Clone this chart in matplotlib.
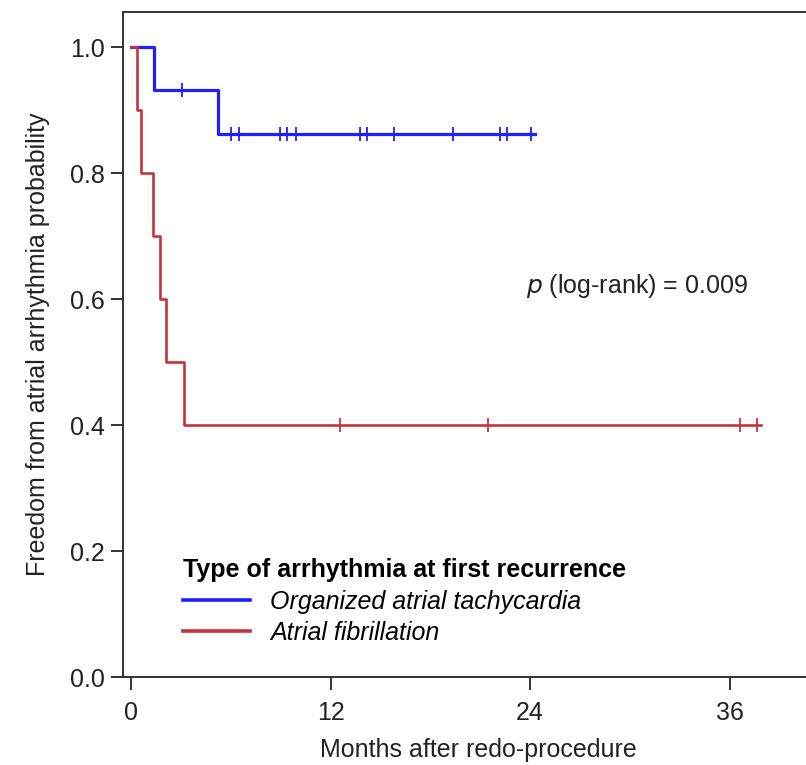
import numpy as np
import matplotlib as mpl
mpl.use("Agg")
import matplotlib.pyplot as plt

mpl.rcParams.update({
    "font.family": "sans-serif",
    "font.sans-serif": ["Liberation Sans", "DejaVu Sans"],
    "font.size": 18,
})

# Kaplan-Meier step data (months, survival)
oat_event_t = [0.0, 1.35, 5.25]
oat_event_s = [1.0, 0.933, 0.862]
oat_end = 24.3
oat_cens_t = [3.08, 6.02, 6.47, 8.97, 9.37, 9.92, 13.78, 14.18, 15.8, 19.37, 22.2, 22.6, 24.04]

af_event_t = [0.0, 0.37, 0.6, 1.31, 1.74, 2.07, 3.19]
af_event_s = [1.0, 0.9, 0.8, 0.7, 0.6, 0.5, 0.4]
af_end = 37.9
af_cens_t = [12.57, 21.48, 36.6, 37.64]

x_ticks = [0, 12, 24, 36]
y_ticks = [0.0, 0.2, 0.4, 0.6, 0.8, 1.0]

BLUE = "#1f1fff"
RED = "#c8323c"
INK = "#222222"
FS = 18


def km_step(times, surv, t_end):
    xs = list(times) + [t_end]
    ys = list(surv) + [surv[-1]]
    return np.array(xs), np.array(ys)


def surv_at(times, surv, t):
    idx = np.searchsorted(times, t, side="right") - 1
    return np.array(surv)[idx]


fig = plt.figure(figsize=(8.06, 7.65), dpi=100)
ax = fig.add_axes([0.1526, 0.115, 0.86, 0.869])

for times, surv, t_end, cens, col, lw, lab in [
    (oat_event_t, oat_event_s, oat_end, oat_cens_t, BLUE, 2.3, "Organized atrial tachycardia"),
    (af_event_t, af_event_s, af_end, af_cens_t, RED, 1.9, "Atrial fibrillation"),
]:
    xs, ys = km_step(times, surv, t_end)
    ax.step(xs, ys, where="post", color=col, linewidth=lw, label=lab, zorder=3)
    ax.plot(cens, surv_at(times, surv, cens), linestyle="none", marker="|",
            markersize=9.5, markeredgewidth=1.3, color=col, zorder=4)

ax.set_xlim(-0.49, 41.2)
ax.set_ylim(0, 1.056)
ax.set_xticks(x_ticks)
ax.set_yticks(y_ticks)
ax.set_yticklabels([f"{v:.1f}" for v in y_ticks])

for side in ["left", "bottom", "top", "right"]:
    ax.spines[side].set_color("#333333")
    ax.spines[side].set_linewidth(1.4)

ax.tick_params(axis="both", direction="out", length=9, width=1.4,
               color="#333333", labelsize=FS, labelcolor=INK)
ax.tick_params(axis="x", pad=8)
ax.tick_params(axis="y", pad=4)

ax.set_xlabel("Months after redo-procedure", fontsize=FS, color=INK)
ax.xaxis.set_label_coords(0.512, -0.092)
ax.set_ylabel("Freedom from atrial arrhythmia probability", fontsize=FS, color=INK)
ax.yaxis.set_label_coords(-0.105, 0.5)

ax.text(0.902, 0.588, r"$\it{p}$ (log-rank) = 0.009", transform=ax.transAxes,
        ha="right", va="center", fontsize=FS, color=INK)

leg = ax.legend(loc="upper left", bbox_to_anchor=(0.072, 0.194), frameon=False,
                title="Type of arrhythmia at first recurrence",
                title_fontproperties={"weight": "bold", "size": FS},
                prop={"style": "italic", "size": FS},
                alignment="left", handlelength=2.7, handletextpad=0.8,
                labelspacing=0.3, borderaxespad=0)
for line in leg.get_lines():
    line.set_linewidth(2.6)

fig.savefig("out.png", dpi=100)
